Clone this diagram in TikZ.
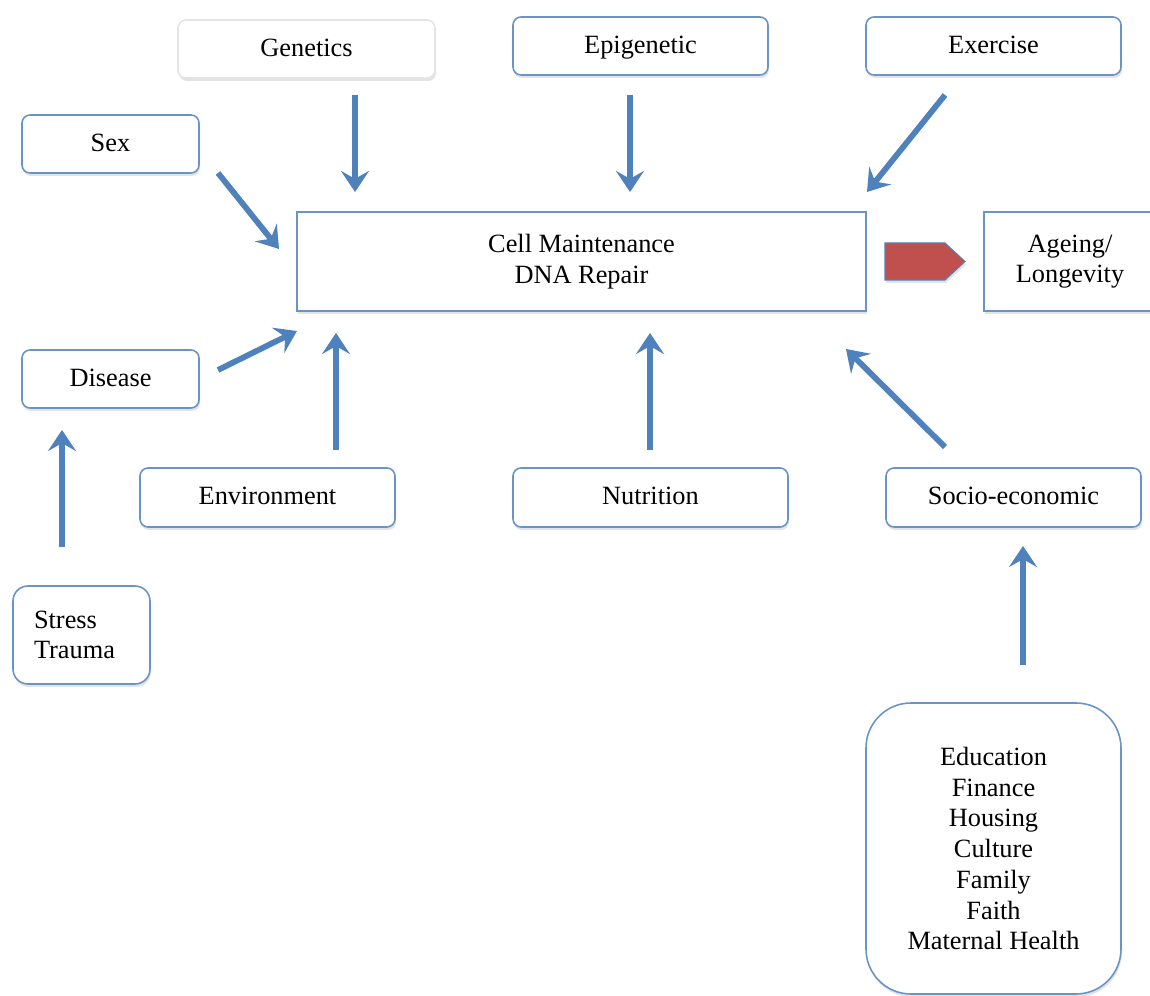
\documentclass[tikz,border=0pt]{standalone}
\usepackage{fontspec}
\setmainfont{Liberation Serif}
\usetikzlibrary{arrows.meta,shadows}
\definecolor{boxblue}{HTML}{4F81BD}
\definecolor{arrowred}{HTML}{C0504D}
\newcommand{\px}{0.02cm}
\tikzset{
  factor/.style={draw=boxblue!85, line width=0.9pt, fill=white,
     rounded corners=0.16cm, align=center,
     font=\fontsize{15pt}{17.5pt}\selectfont,
     drop shadow={opacity=0.22,shadow xshift=0.02cm,shadow yshift=-0.06cm}},
  oneline/.style={text height=12pt, text depth=4pt},
  flow/.style={boxblue, line width=3.3pt,
     -{Stealth[length=12pt,width=16pt,inset=4.5pt]}}
}

\begin{document}
\begin{tikzpicture}[x=0.02cm,y=-0.02cm]
     \useasboundingbox (0,0) rectangle (1150,996);
     \node[factor, oneline, draw=black!10, minimum width=257*\px, minimum height=58*\px] (gen) at (306.5,49) {Genetics};
     \node[factor, oneline, minimum width=255*\px, minimum height=58*\px] (epi) at (640.5,46) {Epigenetic};
     \node[factor, oneline, minimum width=255*\px, minimum height=58*\px] (exe) at (993.5,46) {Exercise};
     \node[factor, oneline, minimum width=177*\px, minimum height=58*\px] (sex) at (110.5,144) {Sex};
     \node[factor, rounded corners=0pt, minimum width=569*\px, minimum height=99*\px] (cell) at (581.5,261.5) {Cell Maintenance\\DNA Repair};
     \node[factor, rounded corners=0pt, minimum width=172*\px, minimum height=99*\px] (age) at (1070,261.5) {Ageing/\\Longevity};
     \filldraw[draw=boxblue, line width=0.6pt, fill=arrowred,
        drop shadow={opacity=0.22,shadow xshift=0.02cm,shadow yshift=-0.06cm}]
        (885,243) -- (945,243) -- (965,261.5) -- (945,280) -- (885,280) -- cycle;
     \node[factor, oneline, minimum width=177*\px, minimum height=58*\px] (dis) at (110.5,379) {Disease};
     \node[factor, oneline, minimum width=255*\px, minimum height=59*\px] (env) at (267.5,497.5) {Environment};
     \node[factor, oneline, minimum width=275*\px, minimum height=59*\px] (nut) at (650.5,497.5) {Nutrition};
     \node[factor, oneline, minimum width=255*\px, minimum height=59*\px] (soc) at (1013.5,497.5) {Socio-economic};
     \node[factor, rounded corners=0.3cm, align=left, text width=95*\px, minimum width=137*\px, minimum height=98*\px] (str) at (81.5,635) {Stress\\Trauma};
     \node[factor, rounded corners=0.9cm, minimum width=255*\px, minimum height=291*\px] (edu) at (993.5,848.5)
        {Education\\Finance\\Housing\\Culture\\Family\\Faith\\Maternal Health};
     \coordinate (genA) at (355,95);   \coordinate (genB) at (355,192);
     \coordinate (epiA) at (630,95);   \coordinate (epiB) at (630,192);
     \coordinate (exeA) at (945,95);   \coordinate (exeB) at (867,192);
     \coordinate (sexA) at (218,173);  \coordinate (sexB) at (279,249);
     \coordinate (disA) at (218,370);  \coordinate (disB) at (297,331);
     \coordinate (envA) at (336,450);  \coordinate (envB) at (336,333);
     \coordinate (nutA) at (650,450);  \coordinate (nutB) at (650,333);
     \coordinate (socA) at (945,447);  \coordinate (socB) at (846,349);
     \coordinate (strA) at (62,547);   \coordinate (strB) at (62,430);
     \coordinate (eduA) at (1023,665); \coordinate (eduB) at (1023,546);
     \foreach \f in {gen,epi,exe,sex,dis,env,nut,soc,str,edu} {
      \draw[flow] (\f A) -- (\f B);
     }
    \end{tikzpicture}
\end{document}
